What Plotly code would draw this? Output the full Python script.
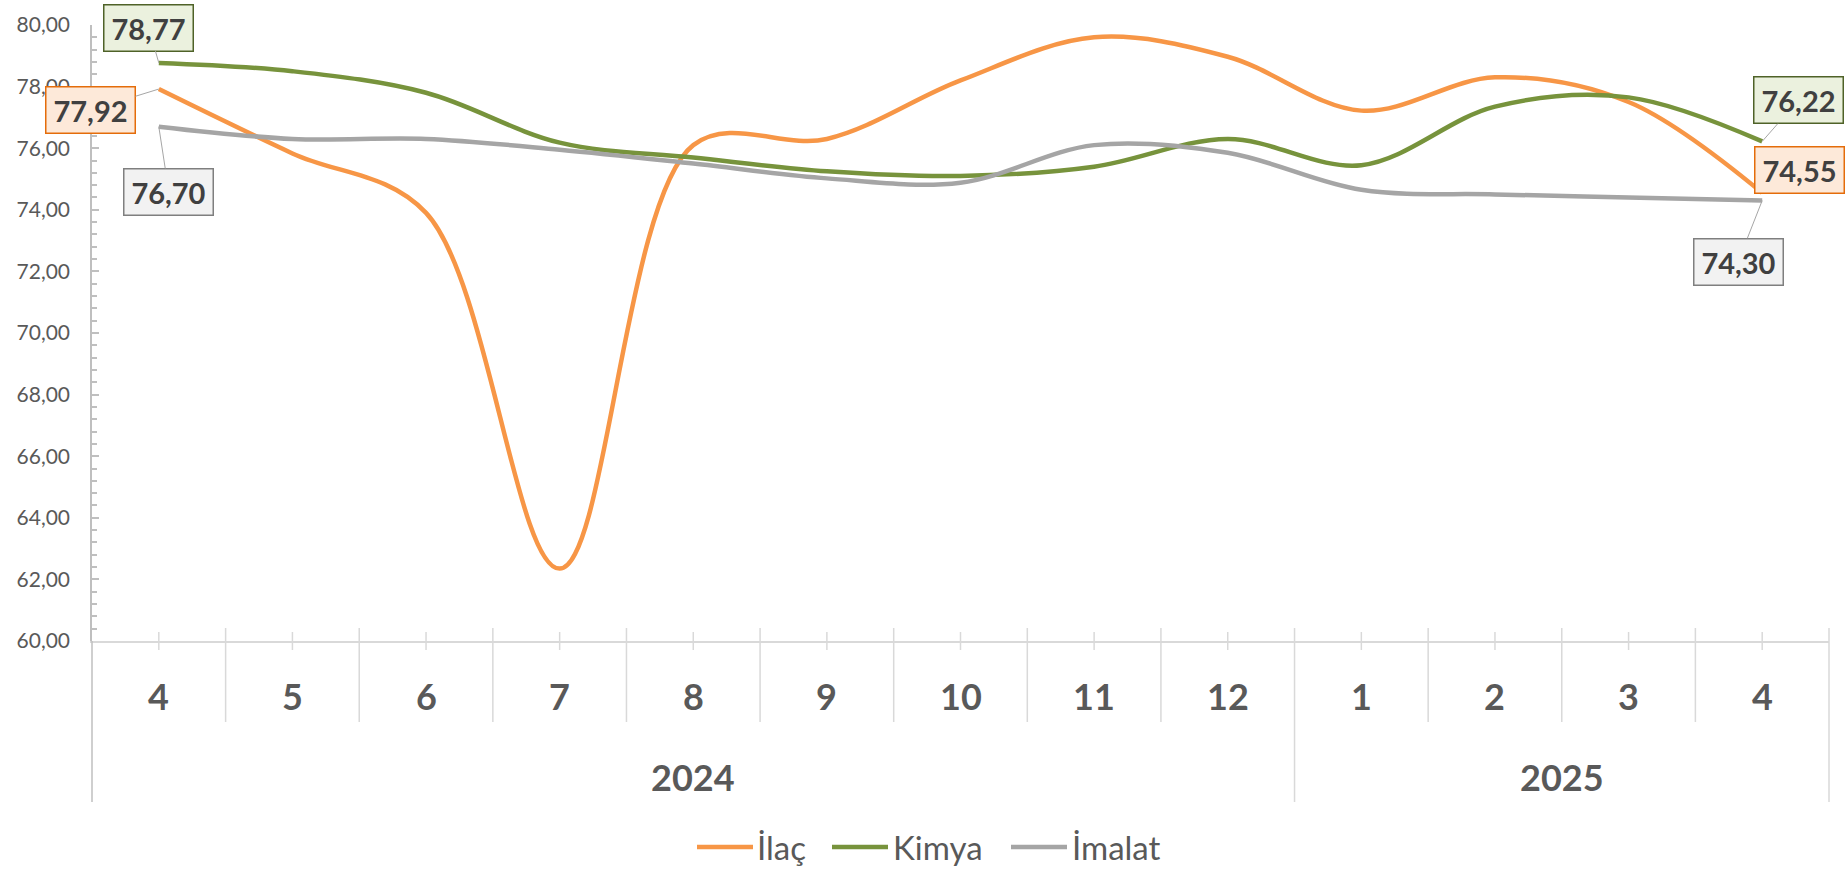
import plotly.graph_objects as go

# ---------------- data ----------------
years = ["2024"] * 9 + ["2025"] * 4
months = ["4", "5", "6", "7", "8", "9", "10", "11", "12", "1", "2", "3", "4"]
ilac = [77.92, 75.83, 73.90, 62.35, 76.10, 76.30, 78.20, 79.60, 78.97, 77.22, 78.30, 77.50, 74.55]
kimya = [78.77, 78.50, 77.80, 76.18, 75.70, 75.25, 75.10, 75.40, 76.30, 75.45, 77.35, 77.65, 76.22]
imalat = [76.70, 76.30, 76.30, 75.95, 75.50, 75.02, 74.88, 76.10, 75.85, 74.65, 74.50, 74.40, 74.30]
series_names = ["İlaç", "Kimya", "İmalat"]
y_ticks = [60, 62, 64, 66, 68, 70, 72, 74, 76, 78, 80]

# ---------------- style ----------------
FONT = "Lato"
colors = ["#F79646", "#77933C", "#A5A5A5"]
fills = ["#FDE9D9", "#EBF1DE", "#F2F2F2"]
borders = ["#E46C0A", "#4F6228", "#7F7F7F"]
AXC = "#D9D9D9"
TXT = "#595959"

keys = [f"{y}-{m}" for y, m in zip(years, months)]
n = len(keys)

fig = go.Figure()
for name, vals, c in zip(series_names, [ilac, kimya, imalat], colors):
    fig.add_trace(go.Scatter(
        x=keys, y=vals, name=name, mode="lines", showlegend=False,
        line=dict(color=c, width=4.5, shape="spline", smoothing=1.0),
        hoverinfo="skip",
    ))

# layout geometry in pixels
W, H = 1848, 869
ML, MR, MT, MB = 92, 19, 25, 228
W_PLOT = W - ML - MR
H_PLOT = H - MT - MB

def py(px_below):
    """paper y for a pixel offset below the x axis line (positive = down)"""
    return -px_below / H_PLOT

def pxx(px):
    """paper x for an absolute pixel column"""
    return (px - ML) / W_PLOT

shapes = []
shapes.append(dict(type="line", xref="paper", yref="paper", x0=0, x1=0,
                   y0=0, y1=py(161), line=dict(color="#BFBFBF", width=1.5)))
for i in range(n):
    shapes.append(dict(type="line", xref="x", yref="paper", x0=i, x1=i,
                       y0=py(-9), y1=py(9), line=dict(color=AXC, width=1.5)))
for i in range(n - 1):
    year_break = years[i] != years[i + 1]
    shapes.append(dict(type="line", xref="x", yref="paper", x0=i + 0.5, x1=i + 0.5,
                       y0=py(-13), y1=py(161 if year_break else 81),
                       line=dict(color=AXC, width=1.5)))
shapes.append(dict(type="line", xref="paper", yref="paper", x0=1, x1=1,
                   y0=py(-13), y1=py(161), line=dict(color=AXC, width=1.5)))

annotations = []
for i, m in enumerate(months):
    annotations.append(dict(x=keys[i], y=py(55), xref="x", yref="paper", text=m,
                            showarrow=False, yanchor="middle",
                            font=dict(family=FONT, size=36, color=TXT, weight="bold")))
for yv in sorted(set(years)):
    idx = [i for i, y in enumerate(years) if y == yv]
    centre = (idx[0] + idx[-1]) / 2
    annotations.append(dict(x=centre, y=py(136), xref="x", yref="paper", text=yv,
                            showarrow=False, yanchor="middle",
                            font=dict(family=FONT, size=36, color=TXT, weight="bold")))

# data labels on first and last points
offsets_first = [(-68, 21), (-10, -35), (10, 65)]
offsets_last = [(37, -23), (36, -41), (-24, 61)]
for s, vals in enumerate([ilac, kimya, imalat]):
    for idx, (ax, ay) in ((0, offsets_first[s]), (n - 1, offsets_last[s])):
        annotations.append(dict(
            x=keys[idx], y=vals[idx], xref="x", yref="y",
            text=f"{vals[idx]:.2f}".replace(".", ","),
            showarrow=True, arrowhead=0, arrowwidth=1, arrowcolor="#A6A6A6",
            ax=ax, ay=ay, standoff=0,
            width=80, height=37, borderpad=4,
            bgcolor=fills[s], bordercolor=borders[s], borderwidth=1.5,
            font=dict(family=FONT, size=29, color="#404040", weight="bold"),
        ))

# legend (line sample + text), laid out below the axis
legend_line_px = [(697, 753), (832, 888), (1011, 1067)]
legend_text_px = [755, 891, 1070]
LEG_Y = py(206)
for s, name in enumerate(series_names):
    x0, x1 = legend_line_px[s]
    shapes.append(dict(type="line", xref="paper", yref="paper",
                       x0=pxx(x0), x1=pxx(x1), y0=LEG_Y, y1=LEG_Y,
                       line=dict(color=colors[s], width=4.5)))
    annotations.append(dict(x=pxx(legend_text_px[s]), y=LEG_Y, xref="paper", yref="paper",
                            text=name, showarrow=False, xanchor="left", yanchor="middle",
                            font=dict(family=FONT, size=33, color=TXT)))

fig.update_layout(
    width=W, height=H,
    margin=dict(l=ML, r=MR, t=MT, b=MB, autoexpand=False),
    paper_bgcolor="white", plot_bgcolor="white",
    separators=",.",
    font=dict(family=FONT, color=TXT),
    showlegend=False,
    xaxis=dict(type="category", range=[-0.5, n - 0.5], showticklabels=False,
               ticks="", showgrid=False, zeroline=False,
               showline=True, linecolor=AXC, linewidth=1.5, fixedrange=True),
    yaxis=dict(range=[60, 80], tickvals=y_ticks, tickformat=".2f",
               showgrid=False, zeroline=False,
               showline=True, linecolor="#BFBFBF", linewidth=1.5,
               ticks="inside", ticklen=7, tickcolor="#BFBFBF", tickwidth=1.5,
               minor=dict(dtick=0.4, tick0=60, ticks="inside", ticklen=5,
                          tickcolor="#BFBFBF", tickwidth=1.5, showgrid=False),
               tickfont=dict(family=FONT, size=21, color=TXT),
               ticklabelstandoff=16, fixedrange=True),
    shapes=shapes,
    annotations=annotations,
)

fig.write_html("out.html", config={"displayModeBar": False},
               post_script="document.body.style.margin='0px';")
